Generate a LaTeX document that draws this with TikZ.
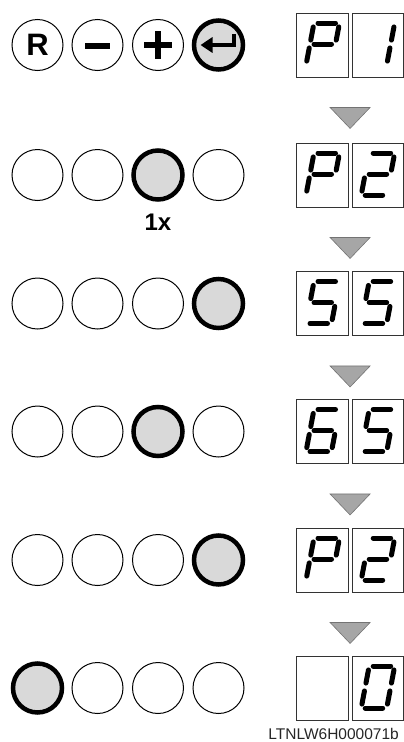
\documentclass[tikz,border=0pt]{standalone}
\usepackage{fontspec}
\setmainfont{Liberation Sans}
\usetikzlibrary{arrows.meta, calc}

% segments of a slanted seven-segment digit, relative to its centre
\def\sega{(-8.5,-22) -- (17,-22)}
\def\segb{(17,-22) -- (13,-1)}
\def\segc{(13,-1) -- (9,20)}
\def\segd{(-16.5,20) -- (9,20)}
\def\sege{(-12.5,-1) -- (-16.5,20)}
\def\segf{(-8.5,-22) -- (-12.5,-1)}
\def\segg{(-12.5,-1) -- (13,-1)}
\newcommand{\sevenseg}[2]{%
  \foreach \s in {#2}{\draw[segline, shift={(#1.center)}] \csname seg\s\endcsname;}}

\begin{document}
\begin{tikzpicture}[
    x=1pt, y=-1pt,
    btn/.style={circle, draw, line width=1pt, minimum size=51pt, inner sep=0pt},
    pressed/.style={line width=4.5pt, minimum size=49pt, fill=gray!30},
    dispbox/.style={draw=black!80, line width=0.9pt, minimum width=51.5pt, minimum height=64pt, inner sep=0pt},
    segline/.style={line width=5pt, line cap=round, shorten <=4pt, shorten >=4pt},
    tri/.style={fill=black!35, draw=black!55, line width=0.6pt}
]
    \useasboundingbox (0,0) rectangle (404,742);

    % Keys
    \node[btn] (b11) at (37.5,45) {\fontsize{31}{31}\selectfont\bfseries R};
    \node[btn] (b12) at (97.5,45) {};
    \node[btn] (b13) at (158,45) {};
    \node[btn, pressed] (b14) at (218.5,45) {};
    \draw[line width=6pt] ($(b12.center)+(-12.5,1)$) -- ($(b12.center)+(12.5,1)$);
    \draw[line width=6pt] ($(b13.center)+(-14,0)$) -- ($(b13.center)+(14,0)$)
        ($(b13.center)+(0,-14)$) -- ($(b13.center)+(0,14)$);
    \draw[line width=4.5pt, -{Triangle[length=12pt, width=15pt]}]
        ($(b14.center)+(15.5,-11)$) |- ($(b14.center)+(-18,0)$);

    % Key rows
    \node[btn] (b21) at (37.5,175) {};
    \node[btn] (b22) at (97.5,175) {};
    \node[btn, pressed] (b23) at (158,175) {};
    \node[btn] (b24) at (218.5,175) {};
    \node[font=\fontsize{24}{24}\selectfont\bfseries] (n1x) at (158,222) {1x};

    \node[btn] (b31) at (37.5,303.5) {};
    \node[btn] (b32) at (97.5,303.5) {};
    \node[btn] (b33) at (158,303.5) {};
    \node[btn, pressed] (b34) at (218.5,303.5) {};

    \node[btn] (b41) at (37.5,431.5) {};
    \node[btn] (b42) at (97.5,431.5) {};
    \node[btn, pressed] (b43) at (158,431.5) {};
    \node[btn] (b44) at (218.5,431.5) {};

    \node[btn] (b51) at (37.5,560) {};
    \node[btn] (b52) at (97.5,560) {};
    \node[btn] (b53) at (158,560) {};
    \node[btn, pressed] (b54) at (218.5,560) {};

    \node[btn, pressed] (b61) at (37.5,688) {};
    \node[btn] (b62) at (97.5,688) {};
    \node[btn] (b63) at (158,688) {};
    \node[btn] (b64) at (218.5,688) {};

    % Displays
    \foreach \r/\y in {1/45, 2/175, 3/303.5, 4/431.5, 5/560, 6/688} {
        \node[dispbox] (d\r1) at (322.5,\y) {};
        \node[dispbox] (d\r2) at (377.7,\y) {};
    }
    \sevenseg{d11}{a,b,f,g,e}
    \sevenseg{d12}{b,c}
    \sevenseg{d21}{a,b,f,g,e}
    \sevenseg{d22}{a,b,g,e,d}
    \sevenseg{d31}{a,f,g,c,d}
    \sevenseg{d32}{a,f,g,c,d}
    \sevenseg{d41}{a,f,g,e,d,c}
    \sevenseg{d42}{a,f,g,c,d}
    \sevenseg{d51}{a,b,f,g,e}
    \sevenseg{d52}{a,b,g,e,d}
    \sevenseg{d62}{a,b,c,d,e,f}

    % Step markers
    \foreach \r in {1,...,5} {
        \coordinate (t\r) at ($(d\r1.south east)!0.5!(d\r2.south west)$);
        \draw[tri] ($(t\r)+(-20,30)$) -- ($(t\r)+(20,30)$) -- ($(t\r)+(0,51)$) -- cycle;
    }

    \node[anchor=base east, inner sep=0pt, font=\fontsize{15.5}{15.5}\selectfont, text=black!85] (code) at (399,739.5) {LTNLW6H000071b};
\end{tikzpicture}
\end{document}
